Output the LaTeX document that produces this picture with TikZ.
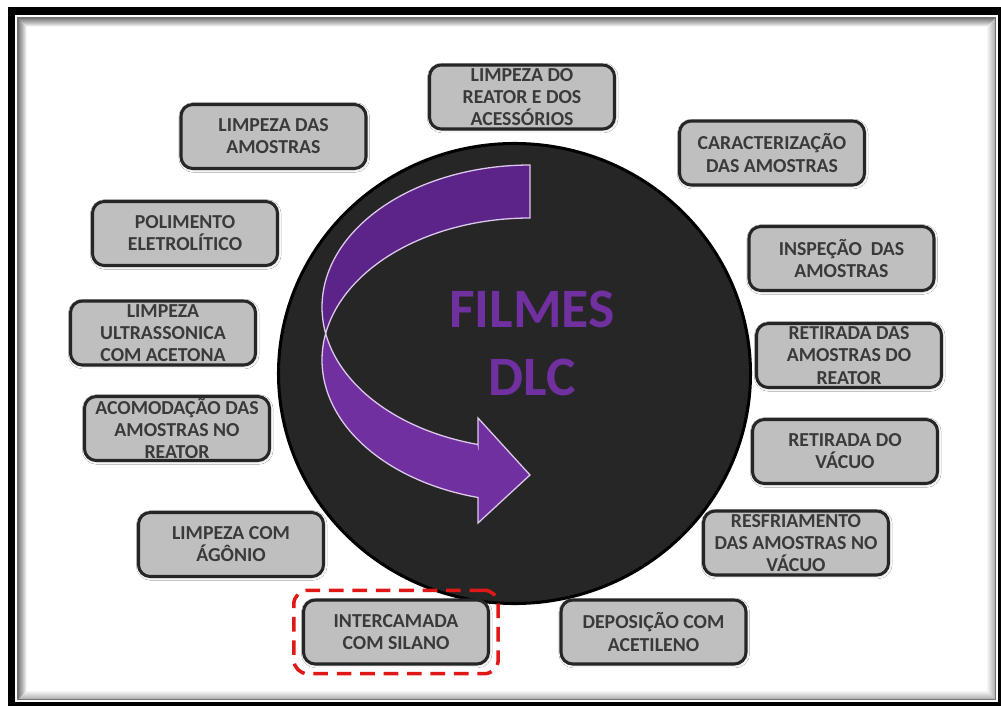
\documentclass[tikz,border=0pt]{standalone}
\usepackage{fontspec}
\setmainfont{Carlito}
\usetikzlibrary{shadows.blur,fit}

\definecolor{boxgray}{HTML}{BFBFBF}
\definecolor{boxline}{HTML}{262626}
\definecolor{boxtext}{HTML}{3A3A3A}
\definecolor{hubfill}{HTML}{262626}
\definecolor{violetmain}{HTML}{7030A0}
\definecolor{violetdark}{HTML}{5C2488}
\definecolor{lilac}{HTML}{DCC8EC}
\definecolor{alertred}{HTML}{E01818}

\begin{document}
\begin{tikzpicture}[x=0.03cm,y=-0.03cm,
  stepbox/.style={draw=boxline, line width=2.6pt, fill=boxgray,
    rounded corners=10pt, minimum width=5.55cm, minimum height=1.92cm,
    inner sep=0pt, align=center, text=boxtext,
    font=\bfseries\fontsize{16.9}{18.9}\selectfont,
    blur shadow={shadow xshift=0.6pt, shadow yshift=-0.8pt,
      shadow blur radius=2.5pt, shadow opacity=25}},
  focusframe/.style={draw=alertred, line width=3pt,
    dash pattern=on 12.5pt off 7.5pt, rounded corners=12pt, inner sep=7pt},
  bandline/.style={draw=lilac, line width=1.1pt}]

\useasboundingbox (0,0) rectangle (1001,706);
\clip (0,0) rectangle (1001,706);
\fill[white] (0,0) rectangle (1001,706);

% outer frame with inner shading
\draw[black, line width=6pt] (11.5,11) rectangle (1001.5,705.5);
\foreach \i [evaluate=\i as \op using 0.32*(1-\i/9)] in {1,...,8}
  \draw[black, opacity=\op, line width=0.9pt] (18+\i,18+\i) rectangle (995.5-\i,699.5-\i);
\draw[black!55, line width=1.3pt] (18,18) rectangle (995.5,699.5);

% central disc
\draw[fill=hubfill, draw=black, line width=2.6pt] (514.5,373.5) ellipse [x radius=236, y radius=230];

% curved arrow: rear band
\path[fill=violetdark, bandline]
  plot[domain=270:169.25, samples=70] ({530+208*cos(\x)},{307+142*sin(\x)})
  -- plot[domain=190.75:270, samples=70] ({530+208*cos(\x)},{360+142*sin(\x)})
  -- cycle;
% curved arrow: front band with head
\path[fill=violetmain, bandline]
  plot[domain=190.75:104.48, samples=70] ({530+208*cos(\x)},{360+142*sin(\x)})
  -- (478,523) -- (530,475) -- (478,418) -- (478,444.5)
  -- plot[domain=104.48:169.25, samples=70] ({530+208*cos(\x)},{307+142*sin(\x)})
  -- cycle;

\node (title) at (532,343) [text=violetmain, align=center,
  font=\bfseries\fontsize{47.5}{58}\selectfont] {FILMES\\DLC};

% process steps
\node[stepbox] (reator)   at (522,97)    {LIMPEZA DO\\REATOR E DOS\\ACESSÓRIOS};
\node[stepbox] (amostras) at (273.5,136.5) {LIMPEZA DAS\\AMOSTRAS};
\node[stepbox] (caract)   at (772,153)   {CARACTERIZAÇÃO\\DAS AMOSTRAS};
\node[stepbox] (polim)    at (185,233.5) {POLIMENTO\\ELETROLÍTICO};
\node[stepbox] (inspec)   at (841.5,258.5) {INSPEÇÃO~~DAS\\AMOSTRAS};
\node[stepbox] (ultra)    at (163,333)   {LIMPEZA\\ULTRASSONICA\\COM ACETONA};
\node[stepbox] (retam)    at (849,355.5) {RETIRADA DAS\\AMOSTRAS DO\\REATOR};
\node[stepbox] (acomod)   at (177,428.5) {ACOMODAÇÃO DAS\\AMOSTRAS NO\\REATOR};
\node[stepbox] (retvac)   at (845,451.5) {RETIRADA DO\\VÁCUO};
\node[stepbox] (argonio)  at (231,544.5) {LIMPEZA COM\\ÁGÔNIO};
\node[stepbox] (resfr)    at (796,543)   {RESFRIAMENTO\\DAS AMOSTRAS NO\\VÁCUO};
\node[stepbox] (deposic)  at (653.5,632) {DEPOSIÇÃO COM\\ACETILENO};
\node[stepbox] (silano)   at (396,632)   {INTERCAMADA\\COM SILANO};

\node[focusframe, fit=(silano)] (focus) {};
\end{tikzpicture}
\end{document}
